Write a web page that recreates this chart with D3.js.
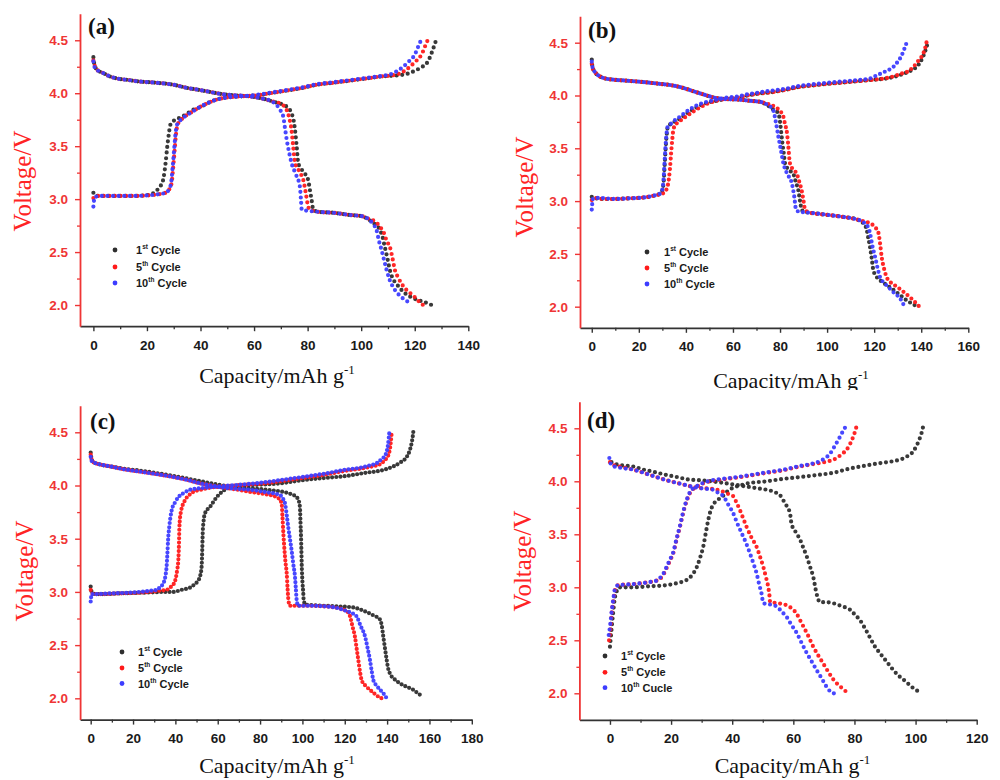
<!DOCTYPE html>
<html>
<head>
<meta charset="utf-8">
<script src="https://cdn.jsdelivr.net/npm/d3@7"></script>
<style>
  html, body { margin: 0; padding: 0; background: #fff; }
  svg { display: block; }
</style>
</head>
<body>
<svg id="chart" width="1000" height="780"></svg>
<script>
// ---------- Charge / discharge profiles: [capacity (mAh/g), voltage (V)] ----------

// (a)
const aCharge1 = [[0,3.06],[1,3.03],[5,3.03],[10,3.03],[15,3.03],[19,3.035],[22,3.05],[23.5,3.08],[25,3.12],[26.2,3.2],[27,3.35],[27.6,3.5],[28.2,3.62],[28.7,3.7],[30,3.74],[32.5,3.77],[34,3.79],[37,3.84],[40,3.87],[43,3.91],[46,3.94],[50,3.96],[55,3.97],[61,3.98],[66,4.0],[73.4,4.03],[78,4.05],[83.4,4.08],[90,4.1],[96,4.12],[102,4.14],[108,4.16],[114.4,4.17],[118,4.19],[120.7,4.22],[122.8,4.25],[124.4,4.28],[125.5,4.33],[126.3,4.38],[127.3,4.45],[128.1,4.51]];
const aCharge5 = [[0,3.01],[1,3.03],[5,3.03],[10,3.03],[15,3.03],[20,3.035],[24,3.045],[27,3.06],[28.3,3.09],[29.2,3.15],[29.8,3.3],[30.3,3.45],[30.8,3.6],[31.4,3.7],[32.5,3.74],[33.6,3.77],[36,3.81],[39.8,3.87],[43,3.91],[46,3.94],[50,3.96],[54.7,3.97],[61,3.98],[66,4.0],[73.4,4.03],[78,4.05],[83.4,4.08],[90,4.1],[96,4.12],[102,4.14],[108,4.16],[112,4.17],[115.5,4.2],[118.2,4.25],[120.3,4.3],[121.9,4.34],[123,4.39],[123.8,4.44],[125,4.51]];
const aCharge10 = [[0,2.93],[0.5,3.02],[3,3.03],[10,3.03],[15,3.03],[20,3.035],[24,3.045],[27,3.06],[28.2,3.09],[29,3.15],[29.6,3.3],[30.1,3.45],[30.6,3.6],[31.2,3.7],[32.3,3.74],[33.6,3.77],[36,3.81],[39.8,3.87],[43,3.91],[46,3.94],[50,3.96],[54.7,3.97],[61,3.985],[66,4.005],[73.4,4.035],[78,4.055],[83.4,4.085],[90,4.105],[96,4.125],[102,4.145],[108,4.165],[111,4.18],[113.5,4.21],[115.7,4.25],[117.8,4.3],[119.4,4.34],[120.5,4.39],[121.3,4.44],[122.5,4.51]];
const aDischarge1 = [[0,4.34],[0.3,4.28],[0.8,4.24],[2,4.21],[3.7,4.19],[6,4.16],[8.7,4.14],[13,4.125],[17.4,4.11],[23,4.1],[29.9,4.08],[35,4.05],[39.8,4.03],[44,4.01],[48.5,3.99],[53,3.98],[58.5,3.97],[63,3.95],[67.2,3.92],[70.9,3.89],[72.8,3.86],[74,3.81],[74.8,3.74],[75.3,3.65],[75.9,3.5],[76.5,3.34],[77.5,3.29],[79,3.24],[80.2,3.18],[80.9,3.08],[81.5,2.99],[82.1,2.9],[84,2.88],[90,2.87],[95.8,2.85],[100,2.84],[103.2,2.8],[105.2,2.76],[107,2.71],[108,2.64],[108.8,2.55],[109.8,2.44],[110.7,2.33],[111.8,2.25],[113.2,2.2],[115.5,2.13],[118.2,2.08],[122,2.04],[124.5,2.02],[126.3,2.0]];
const aDischarge5 = [[0,4.31],[0.5,4.26],[1,4.23],[2,4.21],[3.7,4.19],[6,4.16],[8.7,4.14],[13,4.125],[17.4,4.11],[23,4.1],[29.9,4.08],[35,4.05],[39.8,4.03],[44,4.01],[48.5,3.99],[53,3.98],[58.5,3.97],[63,3.95],[67.2,3.92],[70,3.9],[72.2,3.84],[73.2,3.76],[74,3.65],[74.6,3.5],[75.3,3.34],[76.5,3.28],[77.6,3.23],[78.4,3.18],[79.3,3.06],[80.2,2.93],[80.8,2.9],[84,2.88],[90,2.87],[95.8,2.85],[100,2.84],[103.2,2.81],[105.1,2.79],[107,2.74],[108.5,2.68],[109.6,2.6],[110.7,2.55],[111.7,2.44],[112.6,2.33],[113.8,2.26],[115.1,2.2],[117,2.14],[119.4,2.09],[121.3,2.04],[123.1,2.0]];
const aDischarge10 = [[0,4.3],[0.4,4.25],[1,4.22],[2,4.21],[3.7,4.19],[6,4.16],[8.7,4.14],[13,4.125],[17.4,4.11],[23,4.1],[29.9,4.08],[35,4.05],[39.8,4.03],[44,4.01],[48.5,3.99],[53,3.98],[58.5,3.97],[63,3.95],[66,3.93],[68.4,3.89],[69.8,3.84],[70.9,3.78],[71.6,3.66],[72.2,3.56],[73.1,3.44],[74,3.34],[75.5,3.24],[77.1,3.12],[77.5,3.0],[77.8,2.9],[80,2.89],[84,2.88],[90,2.87],[95.8,2.85],[100,2.84],[103.2,2.8],[104.6,2.76],[105.7,2.71],[106.7,2.6],[107.6,2.52],[108.6,2.42],[109.5,2.33],[110.6,2.24],[111.9,2.17],[113.6,2.11],[115.7,2.06],[117.5,2.03],[118.8,2.01]];

// (b)
const bCharge1 = [[0,3.04],[1,3.03],[5,3.02],[10,3.02],[15,3.025],[20,3.03],[24,3.04],[27,3.055],[29,3.07],[30,3.1],[30.6,3.2],[31,3.35],[31.4,3.5],[31.8,3.62],[32.3,3.7],[33.5,3.73],[35,3.75],[37.5,3.78],[40.4,3.83],[44,3.88],[48.9,3.93],[53,3.95],[57.4,3.97],[62,3.98],[66,4.0],[71.5,4.02],[76,4.03],[81.4,4.05],[88,4.08],[95.6,4.1],[100,4.11],[105,4.12],[110,4.13],[115,4.14],[120,4.15],[125,4.16],[129,4.18],[133,4.21],[136,4.24],[138,4.27],[139.7,4.32],[141,4.38],[142,4.44],[142.8,4.5]];
const bCharge5 = [[0,3.01],[1,3.03],[5,3.02],[10,3.02],[15,3.025],[20,3.03],[24,3.04],[27,3.055],[30,3.07],[31.5,3.1],[32.5,3.17],[33.2,3.3],[33.7,3.45],[34.2,3.58],[34.7,3.68],[35.5,3.72],[37,3.75],[40,3.8],[44,3.86],[48.9,3.92],[53,3.95],[57.4,3.97],[62,3.98],[66,4.0],[71.5,4.02],[76,4.03],[81.4,4.05],[88,4.08],[95.6,4.1],[100,4.11],[105,4.12],[110,4.13],[115,4.14],[120,4.15],[124,4.16],[128.1,4.18],[132,4.21],[134.5,4.23],[136.6,4.27],[138.8,4.33],[140.9,4.4],[141.8,4.46],[142.3,4.51]];
const bCharge10 = [[0,2.92],[0.5,3.02],[3,3.03],[10,3.02],[15,3.025],[20,3.03],[24,3.04],[27,3.055],[29,3.07],[30,3.11],[30.5,3.2],[30.9,3.35],[31.3,3.5],[31.7,3.62],[32.2,3.7],[33.5,3.73],[35,3.76],[37.5,3.8],[40.4,3.85],[44,3.9],[48.9,3.94],[53,3.96],[57.4,3.98],[62,3.99],[66,4.01],[71.5,4.03],[76,4.045],[81.4,4.06],[88,4.09],[95.6,4.11],[100,4.12],[105,4.13],[110,4.14],[115,4.15],[118,4.16],[121.1,4.19],[124,4.22],[126,4.24],[128.1,4.27],[130,4.32],[131.7,4.38],[132.8,4.44],[133.8,4.5]];
const bDischarge1 = [[0,4.34],[0.3,4.27],[1.4,4.22],[3.5,4.18],[6,4.16],[9.2,4.15],[15,4.14],[20.5,4.13],[25,4.12],[29,4.11],[33,4.1],[37.5,4.08],[40.5,4.06],[43.2,4.04],[46,4.02],[48.9,4.0],[52,3.98],[54.5,3.97],[58,3.965],[63,3.96],[67,3.95],[71.5,3.94],[74.4,3.91],[77,3.87],[79.3,3.83],[80,3.75],[80.4,3.67],[81,3.55],[81.6,3.45],[82.1,3.36],[83.5,3.3],[85.6,3.26],[86.7,3.18],[87.8,3.1],[88.5,3.0],[89.2,2.92],[90,2.9],[92.6,2.89],[100,2.87],[106.9,2.85],[112,2.83],[115.4,2.79],[116.8,2.73],[117.5,2.65],[118.2,2.57],[119,2.45],[119.6,2.35],[120.8,2.29],[122.5,2.25],[125,2.21],[128.1,2.16],[131,2.11],[133.8,2.06],[136,2.03],[138.4,2.0]];
const bDischarge5 = [[0,4.3],[0.5,4.25],[1.4,4.22],[3.5,4.18],[6,4.16],[9.2,4.15],[15,4.14],[20.5,4.13],[25,4.12],[29,4.11],[33,4.1],[37.5,4.08],[40.5,4.06],[43.2,4.04],[46,4.02],[48.9,4.0],[52,3.98],[54.5,3.97],[58,3.965],[63,3.96],[67,3.95],[71.5,3.94],[75,3.92],[78,3.89],[80.5,3.84],[81.4,3.8],[82.2,3.72],[82.8,3.67],[83.4,3.55],[84.2,3.36],[85.5,3.3],[87.1,3.26],[88.2,3.18],[89.2,3.1],[90,3.0],[90.6,2.92],[91.5,2.9],[92.6,2.89],[100,2.87],[106.9,2.85],[112,2.83],[115.4,2.81],[118.2,2.79],[120.5,2.75],[121.8,2.7],[122.5,2.6],[123.2,2.47],[124.2,2.36],[125.3,2.28],[127,2.23],[129.6,2.19],[132.5,2.14],[135.2,2.09],[137.5,2.04],[139.2,2.0]];
const bDischarge10 = [[0,4.32],[0.4,4.26],[1.4,4.22],[3.5,4.18],[6,4.16],[9.2,4.15],[15,4.14],[20.5,4.13],[25,4.12],[29,4.11],[33,4.1],[37.5,4.08],[40.5,4.06],[43.2,4.04],[46,4.02],[48.9,4.0],[52,3.98],[54.5,3.97],[58,3.965],[63,3.96],[67,3.95],[71.5,3.94],[74,3.92],[77.1,3.86],[78.2,3.75],[79.3,3.61],[80.4,3.48],[81.4,3.36],[83,3.26],[85,3.17],[86,3.05],[86.8,2.92],[88,2.9],[92.6,2.89],[100,2.87],[106.9,2.85],[112,2.83],[115.4,2.8],[117.5,2.75],[118.2,2.7],[119.2,2.58],[120.4,2.47],[121.4,2.37],[122.5,2.28],[124.5,2.22],[126.7,2.17],[129,2.12],[131,2.08],[132,2.04],[132.7,2.01]];

// (c)
const cCharge1 = [[0,3.05],[0.5,3.0],[2,2.98],[6,2.98],[12,2.985],[20,2.99],[28,2.995],[35,3.0],[39,3.0],[43,3.02],[46.9,3.04],[49,3.07],[50.5,3.1],[51.7,3.15],[52.4,3.24],[52.7,3.4],[52.9,3.55],[53.3,3.66],[54,3.74],[56.4,3.8],[59.5,3.89],[62.6,3.95],[67.4,3.99],[72,4.0],[77,4.005],[82,4.01],[89.4,4.02],[100,4.05],[110,4.07],[120.9,4.09],[130,4.12],[137,4.14],[143,4.18],[146.5,4.22],[149.3,4.27],[150.7,4.33],[151.6,4.4],[152.1,4.46],[152.4,4.51]];
const cCharge5 = [[0,3.02],[1,2.98],[6,2.98],[12,2.985],[20,2.99],[28,3.0],[32,3.01],[35.9,3.02],[38,3.05],[39.8,3.1],[40.8,3.2],[41.4,3.3],[41.7,3.45],[41.9,3.61],[42.5,3.74],[44.5,3.86],[46.5,3.91],[48.5,3.94],[52,3.96],[56.4,3.98],[62,3.99],[68,4.0],[75,4.01],[82,4.02],[89.4,4.04],[100,4.07],[110,4.1],[120.9,4.14],[128,4.16],[133,4.18],[136.7,4.2],[139,4.24],[140.5,4.28],[141.2,4.33],[141.7,4.4],[142,4.46],[142.2,4.51]];
const cCharge10 = [[0,2.91],[0.5,2.98],[3,2.98],[8,2.985],[15,2.99],[23.3,3.0],[28,3.01],[31.2,3.02],[33,3.05],[34.3,3.08],[35.3,3.15],[35.9,3.25],[36.2,3.35],[36.6,3.5],[37.1,3.61],[38.3,3.77],[39.8,3.84],[41.4,3.89],[44,3.93],[46.9,3.96],[50,3.97],[54.8,3.98],[60,3.99],[66,4.0],[72,4.01],[80,4.025],[89.4,4.05],[100,4.08],[110,4.11],[120.9,4.15],[128,4.17],[132,4.19],[135.1,4.21],[137.5,4.25],[139,4.28],[139.8,4.32],[140.4,4.38],[140.8,4.45],[141.1,4.51]];
const cDischarge1 = [[0,4.31],[0.3,4.26],[1.2,4.22],[4,4.2],[9.1,4.18],[15,4.16],[23.3,4.14],[30,4.12],[39,4.09],[46.9,4.06],[52,4.04],[57,4.02],[62.6,4.0],[70,3.98],[78.4,3.97],[85,3.955],[91,3.94],[94.5,3.92],[97.3,3.89],[98.5,3.84],[98.9,3.77],[99.1,3.65],[99.3,3.55],[99.5,3.4],[99.7,3.24],[100,3.1],[100.4,2.99],[100.6,2.92],[101.5,2.88],[105,2.875],[110,2.87],[115,2.865],[120.9,2.86],[125,2.85],[128,2.83],[130.4,2.81],[133.5,2.78],[136.7,2.74],[137.5,2.68],[138.2,2.58],[139,2.47],[139.8,2.36],[140.5,2.28],[141.4,2.23],[143.5,2.18],[146.1,2.14],[149,2.11],[152.4,2.08],[155,2.04],[157.1,2.02]];
const cDischarge5 = [[0,4.29],[0.5,4.24],[1.2,4.22],[4,4.2],[9.1,4.18],[15,4.155],[23.3,4.13],[30,4.11],[39,4.08],[46,4.05],[51.6,4.02],[57,4.0],[62.6,3.98],[68,3.965],[75.2,3.94],[82,3.92],[87.9,3.89],[89.5,3.86],[90.2,3.83],[90.6,3.7],[91,3.55],[91.5,3.4],[92,3.28],[92.6,3.17],[93,3.03],[93.4,2.92],[94.1,2.87],[96,2.87],[100,2.87],[105,2.87],[110,2.865],[115,2.855],[120.9,2.82],[122.5,2.77],[123.6,2.68],[124.8,2.58],[125.6,2.47],[126.4,2.36],[127.2,2.25],[128,2.17],[129.7,2.12],[131.9,2.08],[134.3,2.04],[136.3,2.01],[137.5,2.0]];
const cDischarge10 = [[0,4.27],[0.5,4.23],[1.2,4.22],[4,4.2],[9.1,4.18],[15,4.155],[23.3,4.13],[30,4.11],[39,4.08],[46,4.05],[51.6,4.02],[57,4.0],[62.6,3.98],[68,3.97],[75.2,3.96],[82,3.94],[89.4,3.91],[91,3.87],[91.8,3.83],[92.6,3.72],[93.3,3.61],[94.1,3.5],[94.9,3.39],[95.7,3.26],[96.5,3.14],[96.9,3.03],[97.3,2.92],[98,2.87],[100,2.87],[105,2.87],[110,2.865],[115,2.855],[120.9,2.82],[123.5,2.8],[125.6,2.77],[127.5,2.68],[129.6,2.58],[130.8,2.47],[131.9,2.36],[132.7,2.26],[133.5,2.17],[135,2.12],[136.7,2.08],[138.5,2.04],[139.8,2.0]];

// (d)
const dCharge1 = [[0,2.44],[0.5,2.6],[1,2.75],[1.6,2.9],[2.3,2.97],[3,3.0],[7.6,3.0],[13,3.01],[18.5,3.02],[22,3.04],[25.1,3.07],[27,3.12],[28.4,3.19],[29.5,3.28],[30.5,3.38],[31.4,3.52],[32.2,3.64],[33,3.73],[33.8,3.78],[35,3.82],[36.6,3.85],[38.2,3.9],[40.3,3.94],[42.5,3.96],[45,3.98],[51.3,4.0],[56,4.02],[62.2,4.04],[68,4.06],[73,4.08],[78.5,4.12],[84,4.15],[88,4.17],[92.7,4.19],[95.5,4.21],[97.5,4.24],[99.2,4.28],[100.4,4.34],[101.3,4.4],[102,4.46],[102.5,4.52]];
const dCharge5 = [[-0.3,2.5],[0.2,2.62],[0.55,2.75],[1.1,2.87],[1.6,2.97],[2.7,3.02],[7.6,3.03],[13.1,3.05],[15,3.06],[16.4,3.08],[17.5,3.12],[18.5,3.18],[19.6,3.25],[20.7,3.32],[21.8,3.45],[22.9,3.57],[23.7,3.67],[24.5,3.76],[25.3,3.83],[26.2,3.89],[27.3,3.93],[28.4,3.95],[30.5,3.98],[32.7,4.0],[36,4.015],[40.3,4.03],[45,4.05],[51.3,4.08],[56,4.1],[62.2,4.14],[66,4.16],[70,4.18],[74.2,4.22],[76,4.26],[77.5,4.3],[78.7,4.36],[79.6,4.42],[80.2,4.47],[80.7,4.52]];
const dCharge10 = [[-0.4,2.55],[0.1,2.65],[0.55,2.77],[1.1,2.89],[1.6,2.98],[2.7,3.02],[7.6,3.03],[13.1,3.05],[15,3.06],[16.4,3.09],[17.5,3.13],[18.5,3.19],[19.6,3.26],[20.7,3.33],[21.8,3.46],[22.9,3.58],[23.7,3.68],[24.5,3.77],[25.3,3.84],[26.2,3.9],[27.3,3.935],[28.4,3.955],[30.5,3.985],[32.7,4.005],[36,4.02],[40.3,4.035],[45,4.055],[51.3,4.085],[56,4.105],[62.2,4.145],[66,4.165],[68.7,4.19],[70.5,4.22],[72,4.26],[73.5,4.33],[74.7,4.39],[76,4.46],[77.2,4.52]];
const dDischarge1 = [[0.5,4.18],[1.1,4.17],[4,4.15],[7.6,4.14],[11,4.11],[14.2,4.09],[18.5,4.06],[22,4.04],[26.2,4.015],[29.5,4.01],[33,4.0],[36,3.99],[40.3,3.97],[44.7,3.95],[49.1,3.93],[51.3,3.92],[54.5,3.89],[55.6,3.87],[57.3,3.79],[58.9,3.7],[59.4,3.6],[60.8,3.52],[62.2,3.45],[63.3,3.37],[64.4,3.29],[65.4,3.2],[66.5,3.1],[67.6,2.94],[68.7,2.86],[70.5,2.86],[73,2.85],[76,2.82],[78.5,2.79],[80.2,2.74],[81.8,2.69],[83.5,2.61],[85,2.53],[86.5,2.45],[88.3,2.38],[90.5,2.3],[92.7,2.22],[94.3,2.17],[96,2.13],[97.6,2.09],[99.2,2.05],[100.8,2.02],[102,2.0]];
const dDischarge5 = [[0,4.18],[0.5,4.16],[3,4.14],[7.6,4.11],[13.1,4.06],[18.5,4.01],[24,3.97],[28.4,3.94],[30.5,3.935],[32.7,3.93],[35,3.92],[37.1,3.9],[38.8,3.88],[40.3,3.86],[41.4,3.8],[42.5,3.73],[43.6,3.65],[44.7,3.57],[46.3,3.47],[48,3.38],[49.2,3.28],[50.2,3.19],[51,3.1],[51.8,3.0],[52.2,2.92],[52.4,2.86],[55,2.85],[57.8,2.83],[59.5,2.8],[61.1,2.75],[62.2,2.69],[63.3,2.63],[64.9,2.54],[66.5,2.44],[68.1,2.36],[69.8,2.28],[71.5,2.2],[73.1,2.13],[75.5,2.06],[78,2.0]];
const dDischarge10 = [[-0.2,4.22],[0.5,4.15],[3,4.13],[7.6,4.11],[13.1,4.06],[18.5,4.01],[24,3.97],[28.4,3.94],[31,3.93],[33.8,3.92],[35.5,3.89],[37.1,3.86],[38.7,3.78],[40.3,3.7],[41.7,3.6],[43.1,3.51],[44.5,3.42],[45.8,3.32],[47,3.22],[48,3.13],[48.8,3.03],[49.6,2.94],[50.2,2.85],[52,2.84],[54.5,2.82],[56.2,2.77],[57.8,2.72],[59.5,2.64],[61.1,2.57],[62.8,2.47],[64.4,2.38],[66,2.3],[67.6,2.22],[69.3,2.14],[70.9,2.06],[72,2.02],[73.1,2.0],[74,2.0]];

// ---------- Axis ticks and labels ----------
const voltageTicks = [2.0, 2.5, 3.0, 3.5, 4.0, 4.5];
const voltageMinorTicks = [2.25, 2.75, 3.25, 3.75, 4.25];
const aCapacityTicks = [0, 20, 40, 60, 80, 100, 120, 140];
const bCapacityTicks = [0, 20, 40, 60, 80, 100, 120, 140, 160];
const cCapacityTicks = [0, 20, 40, 60, 80, 100, 120, 140, 160, 180];
const dCapacityTicks = [0, 20, 40, 60, 80, 100, 120];
const panelLetters = ["(a)", "(b)", "(c)", "(d)"];
const cycleLabels = [["1", "st", " Cycle"], ["5", "th", " Cycle"], ["10", "th", " Cycle"]];
const cycleLabelsD = [["1", "st", " Cycle"], ["5", "th", " Cycle"], ["10", "th", " Cucle"]];
const cycleColors = ["#2e2e2e", "#ff1a1a", "#3d3dff"];

// ---------- Panel geometry ----------
const panels = [
  { clip: [0, 0, 500, 390], xr: [80, 468.3], xd: [-5, 140], yr: [326.2, 13.8], yd: [1.8, 4.75],
    ticks: aCapacityTicks, letter: [88, 34], xTitle: [277, 383], yTitle: [22, 181],
    legend: { mx: 115, tx: 136, ys: [250, 267, 283] }, labels: cycleLabels, step: 5.6,
    curves: [[aCharge1, aDischarge1], [aCharge5, aDischarge5], [aCharge10, aDischarge10]] },
  { clip: [500, 0, 500, 390], xr: [580, 968.3], xd: [-5, 160], yr: [327.8, 16.3], yd: [1.8, 4.75],
    ticks: bCapacityTicks, letter: [588, 38], xTitle: [791, 387.5], yTitle: [524, 187],
    legend: { mx: 647, tx: 664, ys: [252, 268, 284] }, labels: cycleLabels, step: 5.2,
    curves: [[bCharge1, bDischarge1], [bCharge5, bDischarge5], [bCharge10, bDischarge10]] },
  { clip: [0, 390, 500, 390], xr: [80.1, 471.8], xd: [-5, 180], yr: [719.6, 405.7], yd: [1.8, 4.75],
    ticks: cCapacityTicks, letter: [90, 429], xTitle: [277, 772.5], yTitle: [24, 571],
    legend: { mx: 122, tx: 138, ys: [652, 668, 683.5] }, labels: cycleLabels, step: 4.2,
    curves: [[cCharge1, cDischarge1], [cCharge5, cDischarge5], [cCharge10, cDischarge10]] },
  { clip: [500, 390, 500, 390], xr: [579.4, 976.7], xd: [-10, 120], yr: [719.8, 401.8], yd: [1.75, 4.75],
    ticks: dCapacityTicks, letter: [587, 428], xTitle: [792.5, 773], yTitle: [522, 561],
    legend: { mx: 605, tx: 621, ys: [656, 672.3, 687.7] }, labels: cycleLabelsD, step: 5.6,
    curves: [[dCharge1, dDischarge1], [dCharge5, dDischarge5], [dCharge10, dDischarge10]] }
];

const svg = d3.select("#chart");
const defs = svg.append("defs");
const AXIS_RED = "#ef3535";
const SANS = "'Liberation Sans', Arial, sans-serif";
const SERIF = "'Liberation Serif', 'Times New Roman', serif";

panels.forEach((p, i) => {
  const clipId = "panel-clip-" + i;
  defs.append("clipPath").attr("id", clipId)
    .append("rect").attr("x", p.clip[0]).attr("y", p.clip[1])
    .attr("width", p.clip[2]).attr("height", p.clip[3]);

  const g = svg.append("g").attr("clip-path", `url(#${clipId})`);
  const x = d3.scaleLinear().domain(p.xd).range(p.xr);
  const y = d3.scaleLinear().domain(p.yd).range(p.yr);
  const x0 = p.xr[0], y0 = p.yr[0];

  // capacity axis (minor ticks first, then labelled majors)
  const minorX = d3.range(10, p.xd[1], 20);
  g.append("g").attr("transform", `translate(0,${y0})`)
    .call(d3.axisBottom(x).tickValues(minorX).tickFormat("").tickSize(3).tickSizeOuter(0))
    .call(a => a.select(".domain").remove())
    .call(a => a.selectAll("line").attr("stroke", "#333").attr("stroke-width", 1.3));
  g.append("g").attr("transform", `translate(0,${y0})`)
    .call(d3.axisBottom(x).tickValues(p.ticks).tickFormat(d3.format("d")).tickSize(5).tickPadding(9).tickSizeOuter(0))
    .call(a => a.select(".domain").attr("stroke", "#333").attr("stroke-width", 1.8))
    .call(a => a.selectAll("line").attr("stroke", "#333").attr("stroke-width", 1.4))
    .call(a => a.selectAll("text").attr("fill", "#1a1a1a")
      .attr("font-family", SANS).attr("font-weight", "bold").attr("font-size", 13.5));

  // voltage axis
  g.append("g").attr("transform", `translate(${x0},0)`)
    .call(d3.axisLeft(y).tickValues(voltageMinorTicks).tickFormat("").tickSize(3).tickSizeOuter(0))
    .call(a => a.select(".domain").remove())
    .call(a => a.selectAll("line").attr("stroke", AXIS_RED).attr("stroke-width", 1.3));
  g.append("g").attr("transform", `translate(${x0},0)`)
    .call(d3.axisLeft(y).tickValues(voltageTicks).tickFormat(d3.format(".1f")).tickSize(5).tickPadding(7).tickSizeOuter(0))
    .call(a => a.select(".domain").attr("stroke", AXIS_RED).attr("stroke-width", 1.8))
    .call(a => a.selectAll("line").attr("stroke", AXIS_RED).attr("stroke-width", 1.4))
    .call(a => a.selectAll("text").attr("fill", AXIS_RED)
      .attr("font-family", SANS).attr("font-weight", "bold").attr("font-size", 13.5));

  // charge / discharge profiles drawn as dotted traces
  const line = d3.line().x(d => x(d[0])).y(d => y(d[1])).curve(d3.curveMonotoneX);
  p.curves.forEach((pair, ci) => {
    pair.forEach(series => {
      g.append("path").datum(series)
        .attr("d", line)
        .attr("fill", "none")
        .attr("stroke", cycleColors[ci])
        .attr("stroke-width", 4.2)
        .attr("stroke-linecap", "round")
        .attr("stroke-dasharray", `0 ${p.step}`)
        .attr("opacity", 0.95);
    });
  });

  // legend
  p.labels.forEach((lab, li) => {
    const ly = p.legend.ys[li];
    g.append("circle").attr("cx", p.legend.mx).attr("cy", ly).attr("r", 2.4)
      .attr("fill", cycleColors[li]);
    const t = g.append("text").attr("x", p.legend.tx).attr("y", ly + 4)
      .attr("font-family", SANS).attr("font-weight", "bold").attr("font-size", 11)
      .attr("fill", "#1a1a1a");
    t.append("tspan").text(lab[0]);
    t.append("tspan").attr("font-size", 6.5).attr("dy", -5).text(lab[1]);
    t.append("tspan").attr("dy", 5).text(lab[2]);
  });

  // panel letter
  g.append("text").attr("x", p.letter[0]).attr("y", p.letter[1])
    .attr("font-family", SERIF).attr("font-weight", "bold").attr("font-size", 23)
    .attr("fill", "#111").text(panelLetters[i]);

  // axis titles
  const xt = g.append("text").attr("x", p.xTitle[0]).attr("y", p.xTitle[1])
    .attr("text-anchor", "middle").attr("font-family", SERIF).attr("font-size", 22)
    .attr("fill", "#111");
  xt.append("tspan").text("Capacity/mAh g");
  xt.append("tspan").attr("font-size", 13).attr("dy", -9).text("-1");

  g.append("text")
    .attr("transform", `translate(${p.yTitle[0]},${p.yTitle[1]}) rotate(-90)`)
    .attr("text-anchor", "middle").attr("dominant-baseline", "central")
    .attr("font-family", SERIF).attr("font-size", 25)
    .attr("fill", "#ff2424").text("Voltage/V");
});
</script>
</body>
</html>
